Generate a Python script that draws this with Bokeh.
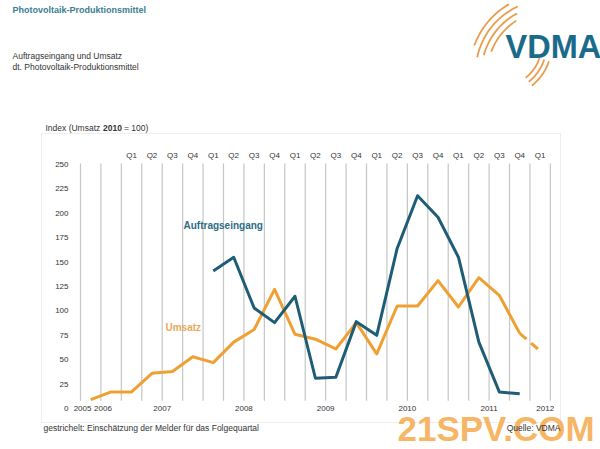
import numpy as np
from bokeh.plotting import figure
from bokeh.models import Range1d, FixedTicker, LinearAxis, Label, BoxAnnotation, PolyAnnotation
from bokeh.embed import file_html
from bokeh.resources import INLINE

# ---------------- data ----------------
categories = ["2005", "2006",
              "2007 Q1", "2007 Q2", "2007 Q3", "2007 Q4",
              "2008 Q1", "2008 Q2", "2008 Q3", "2008 Q4",
              "2009 Q1", "2009 Q2", "2009 Q3", "2009 Q4",
              "2010 Q1", "2010 Q2", "2010 Q3", "2010 Q4",
              "2011 Q1", "2011 Q2", "2011 Q3", "2011 Q4",
              "2012 Q1"]
umsatz = [9, 17, 17, 36, 38, 53, 47, 68, 81, 122, 76, 71, 61, 88, 56,
          105, 105, 131, 104, 134, 116, 77, 59]
auftragseingang = [None, None, None, None, None, None,
                   141, 155, 103, 88, 115, 31, 32, 89, 75, 164, 218, 196,
                   155, 68, 17, 15, None]
estimate_from = "2011 Q4"          # dashed: estimate for following quarter
y_ticks = [0, 25, 50, 75, 100, 125, 150, 175, 200, 225, 250]
year_labels = ["2005", "2006", "2007", "2008", "2009", "2010", "2011", "2012"]

FONT = "Liberation Sans"
BLUE = "#1f5d77"
ORANGE = "#efa032"
W, H = 600, 449
# frame covers the whole canvas; category i sits at pixel 90.2 + 20.43*i,
# value v at pixel 408 - 0.976*v (from the top)
XS, YS = 20.43, 0.976
X0, Y0 = 90.2, 408.0

idx = list(range(len(categories)))
quarter_idx = [i for i, c in enumerate(categories) if " Q" in c]
quarter_text = {i: categories[i].split(" ")[1] for i in quarter_idx}

p = figure(width=W, height=H, output_backend="svg", toolbar_location=None,
           x_range=Range1d((0 - X0) / XS, (W - X0) / XS),
           y_range=Range1d((Y0 - H) / YS, Y0 / YS),
           min_border=0, min_border_left=0, min_border_right=0, min_border_top=0,
           min_border_bottom=0, x_axis_location=None, y_axis_location=None)
p.grid.grid_line_color = None
p.outline_line_color = None
p.background_fill_color = "white"
p.border_fill_color = "white"

axis_style = dict(axis_line_color=None, major_tick_line_color=None,
                  minor_tick_line_color=None, major_tick_out=0, major_tick_in=0,
                  major_label_text_font=FONT, major_label_text_font_size="8px",
                  major_label_text_color="#333333")

# y axis (value scale)
yax = LinearAxis(ticker=FixedTicker(ticks=y_ticks), major_label_standoff=4,
                 fixed_location=(72 - X0) / XS, **axis_style)
p.add_layout(yax, "left")

# quarter axis (top)
qax = LinearAxis(ticker=FixedTicker(ticks=quarter_idx), major_label_standoff=2,
                 major_label_overrides=quarter_text,
                 fixed_location=(Y0 - 161) / YS, **axis_style)
p.add_layout(qax, "above")

# year axis (bottom): centre of each year's categories
ypos = []
for y in year_labels:
    members = [i for i, c in enumerate(categories) if c.startswith(y)]
    pos = sum(members) / len(members)
    if len(members) == 1 and " Q" not in categories[members[0]]:
        pos -= 0.4
    elif len(members) == 1:
        pos += 0.25
    ypos.append(round(pos, 2))
yrax = LinearAxis(ticker=FixedTicker(ticks=ypos), major_label_standoff=0,
                  major_label_overrides=dict(zip(ypos, year_labels)),
                  fixed_location=(Y0 - 405) / YS, **axis_style)
p.add_layout(yrax, "below")

# vertical separators between categories
bounds = [i - 0.5 for i in range(len(categories) + 1)]
p.segment(x0=bounds, y0=[8] * len(bounds), x1=bounds, y1=[251] * len(bounds),
          line_color="#c6c6c6", line_width=1.2)

# lines
k = categories.index(estimate_from)
p.line(idx[:k + 1], umsatz[:k + 1], line_color=ORANGE, line_width=3, line_join="round")
p.line(idx[k:], umsatz[k:], line_color=ORANGE, line_width=3, line_dash="9 6")
a_idx = [i for i in idx if auftragseingang[i] is not None]
p.line(a_idx, [auftragseingang[i] for i in a_idx], line_color=BLUE, line_width=3,
       line_join="round")

# series labels
p.add_layout(Label(x=(183 - X0) / XS, y=(Y0 - 225) / YS, text="Auftragseingang",
                   text_font=FONT, text_font_size="10px", text_font_style="bold",
                   text_color="#2b6c85", text_baseline="middle"))
p.add_layout(Label(x=(165 - X0) / XS, y=(Y0 - 327) / YS, text="Umsatz", text_font=FONT,
                   text_font_size="10px", text_font_style="bold", text_color="#e9a85a",
                   text_baseline="middle"))


# ---------- page decorations (screen units, origin bottom-left of canvas) ----------
def sx(px):
    return px


def sy(py):
    return H - py


def lab(px, py, text, size="8.5px", style="normal", color="#333333", align="left", alpha=1.0):
    p.add_layout(Label(x=sx(px), y=sy(py), x_units="screen", y_units="screen", text=text,
                       text_font=FONT, text_font_size=size, text_font_style=style,
                       text_color=color, text_align=align, text_baseline="middle",
                       text_alpha=alpha))


p.add_layout(BoxAnnotation(left=sx(41), right=sx(560), top=sy(133), bottom=sy(422),
                           left_units="screen", right_units="screen", top_units="screen",
                           bottom_units="screen", fill_alpha=0, line_color="#c8c8c8",
                           line_width=1))

lab(12, 9, "Photovoltaik-Produktionsmittel", size="9px", style="bold", color="#3b7c93")
lab(12, 55, "Auftragseingang und Umsatz")
lab(12, 66, "dt. Photovoltaik-Produktionsmittel")
lab(45, 127, "Index (Umsatz")
lab(102.5, 127, "2010", style="bold")
lab(123.5, 127, "= 100)")
lab(43, 427, "gestrichelt: Einschätzung der Melder für das Folgequartal")
lab(397, 428, "21SPV.COM", size="35px", style="bold", color="#f5a94a", alpha=0.85)
lab(560, 427, "Quelle: VDMA", align="right")

# logo
lab(505, 46, "VDMA", size="32.5px", style="bold", color="#1a6b8a")


def arc_poly(cx, cy, r, a0, a1, w=1.8):
    t = np.radians(np.linspace(a0, a1, 30))
    xo = cx + (r + w) * np.cos(t)
    yo = cy - (r + w) * np.sin(t)
    xi = cx + r * np.cos(t[::-1])
    yi = cy - r * np.sin(t[::-1])
    xs = [sx(v) for v in np.concatenate([xo, xi])]
    ys = [sy(v) for v in np.concatenate([yo, yi])]
    p.add_layout(PolyAnnotation(xs=xs, ys=ys, xs_units="screen", ys_units="screen",
                                fill_color="#e8913a", fill_alpha=0.9, line_color=None))


for r, a0, a1 in [(60, 122, 160), (66, 118, 165), (72, 115, 168), (78, 120, 160)]:
    arc_poly(548, 72, r, a0, a1)
for r in [40, 45, 50]:
    arc_poly(500, 45, r, -52, -18)

open("out.html", "w").write(file_html(p, INLINE))
